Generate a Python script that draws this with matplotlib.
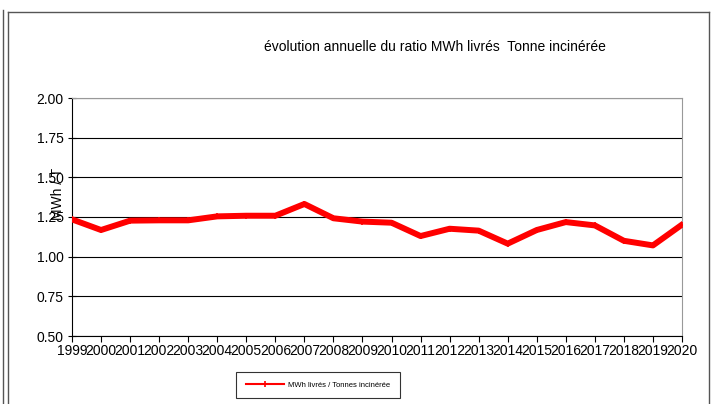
import matplotlib.pyplot as plt
from matplotlib.lines import Line2D

plt.rcParams['font.family'] = ['Liberation Sans', 'DejaVu Sans']

years = [str(y) for y in range(1999, 2021)]
ratio = [1.235, 1.168, 1.227, 1.229, 1.229, 1.254, 1.258, 1.258, 1.332, 1.242,
         1.221, 1.214, 1.130, 1.176, 1.164, 1.082, 1.168, 1.218, 1.197, 1.100,
         1.071, 1.202]
yticks = [0.50, 0.75, 1.00, 1.25, 1.50, 1.75, 2.00]

fig = plt.figure(figsize=(7.16, 4.04), dpi=100)
ax = fig.add_axes([72 / 716, 1 - 336 / 404, 610 / 716, 238 / 404])

x = list(range(len(years)))
ax.plot(x, ratio, color='#ff0000', linewidth=4.3, marker='+', markersize=4,
        markeredgewidth=1.2, label='MWh livrés / Tonnes incinérée', zorder=3)

ax.set_xlim(0, len(years) - 1)
ax.set_ylim(0.5, 2.0)
ax.set_yticks(yticks)
ax.set_yticklabels(['%.2f' % v for v in yticks], fontsize=10)
ax.set_xticks(x)
ax.set_xticklabels(years, fontsize=10)
ax.tick_params(axis='x', direction='out', length=4, pad=2)
ax.tick_params(axis='y', direction='inout', length=6, pad=3)
ax.yaxis.grid(True, color='black', linewidth=0.8)
ax.set_axisbelow(True)
for side in ['top', 'right']:
    ax.spines[side].set_color('#999999')
for side in ['left', 'bottom']:
    ax.spines[side].set_color('black')

fig.text(435 / 716, 1 - 47 / 404, 'évolution annuelle du ratio MWh livrés  Tonne incinérée',
         ha='center', va='center', fontsize=10)
fig.text(58 / 716, 1 - 194 / 404, 'MWh / T', rotation=90, ha='center', va='center',
         fontsize=10)

leg = ax.legend(loc='center', bbox_to_anchor=(318 / 716, 1 - 385 / 404),
                bbox_transform=fig.transFigure, fontsize=5.5, frameon=True,
                fancybox=False, edgecolor='black', handlelength=5,
                borderpad=1.2, handletextpad=0.6)
leg.get_frame().set_linewidth(0.8)
for h in leg.get_lines():
    h.set_linewidth(1.5)

# outer frame
fig.add_artist(Line2D([3 / 716, 3 / 716], [0, 1 - 10 / 404], color='#555555', lw=1))
fig.add_artist(Line2D([8 / 716, 8 / 716], [0, 1 - 12 / 404], color='#555555', lw=1))
fig.add_artist(Line2D([8 / 716, 709 / 716], [1 - 12 / 404, 1 - 12 / 404], color='#555555', lw=1))
fig.add_artist(Line2D([709 / 716, 709 / 716], [0, 1 - 12 / 404], color='#555555', lw=1))

fig.savefig('out.png', dpi=100)
